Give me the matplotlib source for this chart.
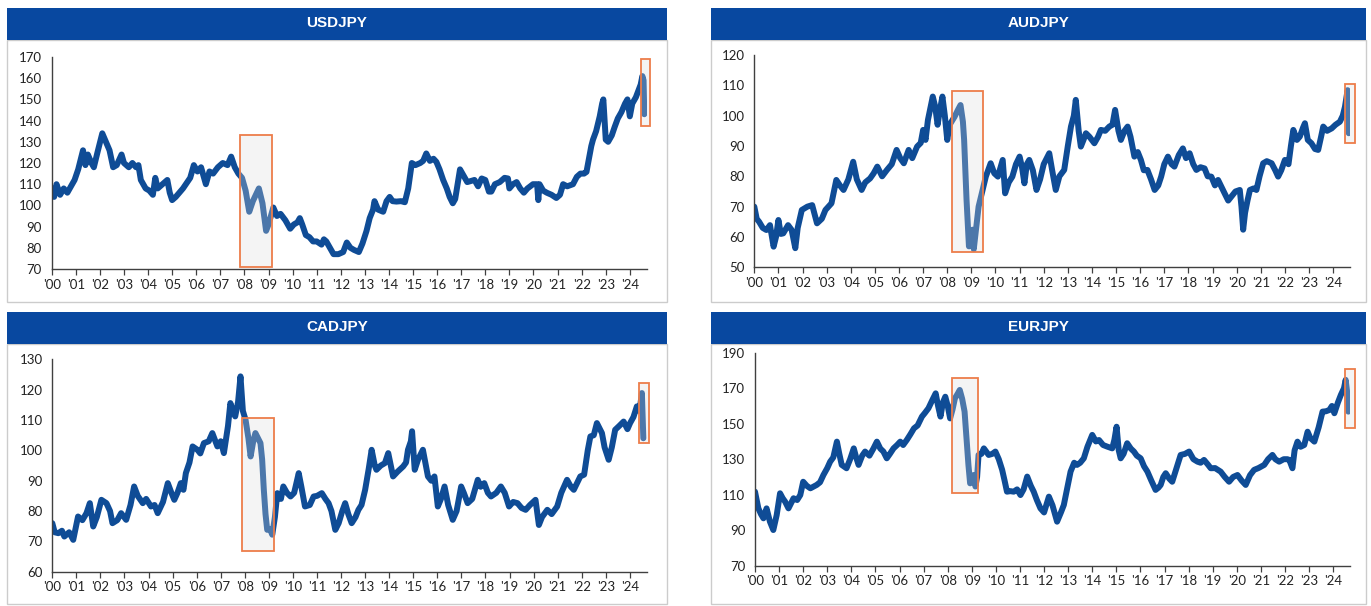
import matplotlib.pyplot as plt
from matplotlib.patches import Rectangle

# ---- JPY crosses, 2000 - Aug 2024 (decimal year, level) ----
usd_t = [2000.0, 2000.1, 2000.2, 2000.35, 2000.5, 2000.65, 2000.8, 2000.95, 2001.1, 2001.3,
         2001.4, 2001.5, 2001.65, 2001.75, 2001.9, 2002.1, 2002.25, 2002.4, 2002.55, 2002.7,
         2002.9, 2003.0, 2003.2, 2003.35, 2003.5, 2003.6, 2003.7, 2003.9, 2004.05, 2004.2,
         2004.3, 2004.4, 2004.6, 2004.8, 2004.9, 2005.0, 2005.15, 2005.3, 2005.45, 2005.6,
         2005.75, 2005.9, 2006.05, 2006.2, 2006.4, 2006.55, 2006.7, 2006.9, 2007.1, 2007.3,
         2007.45, 2007.6, 2007.75, 2007.9, 2008.05, 2008.2, 2008.35, 2008.6, 2008.75, 2008.9,
         2009.0, 2009.2, 2009.35, 2009.5, 2009.7, 2009.9, 2010.05, 2010.2, 2010.3, 2010.4,
         2010.55, 2010.7, 2010.85, 2011.0, 2011.2, 2011.3, 2011.4, 2011.55, 2011.7, 2011.9,
         2012.1, 2012.25, 2012.4, 2012.55, 2012.75, 2012.9, 2013.07, 2013.2, 2013.34, 2013.4,
         2013.55, 2013.76, 2013.9, 2014.03, 2014.15, 2014.31, 2014.5, 2014.66, 2014.8, 2014.95,
         2015.1, 2015.3, 2015.42, 2015.55, 2015.7, 2015.85, 2015.97, 2016.1, 2016.25, 2016.4,
         2016.52, 2016.65, 2016.75, 2016.85, 2016.95, 2017.1, 2017.25, 2017.4, 2017.55, 2017.7,
         2017.85, 2018.0, 2018.15, 2018.25, 2018.4, 2018.6, 2018.8, 2018.94, 2019.0, 2019.15,
         2019.3, 2019.45, 2019.6, 2019.75, 2019.98, 2020.15, 2020.2, 2020.25, 2020.4, 2020.55,
         2020.75, 2020.95, 2021.1, 2021.23, 2021.4, 2021.64, 2021.8, 2021.95, 2022.1, 2022.2,
         2022.3, 2022.4, 2022.47, 2022.6, 2022.75, 2022.85, 2022.9, 2023.0, 2023.1, 2023.25,
         2023.37, 2023.5, 2023.65, 2023.8, 2023.9, 2024.0, 2024.1, 2024.25, 2024.35, 2024.45,
         2024.52, 2024.57, 2024.6]
usd_v = [108, 104, 110, 105, 108, 106, 109, 112, 117, 126,
         119, 124, 120, 118, 125, 134, 130, 126, 118, 119,
         124, 120, 118, 120, 118, 119, 112, 108, 107, 105,
         113, 108, 110, 112, 106, 102.5, 104, 106, 108, 110.5,
         113, 119, 116, 118, 110, 116, 115, 118, 120, 119,
         123, 118, 115, 113, 107, 97, 102, 108, 101, 88,
         91, 99, 95, 96, 93, 89, 91, 92, 94, 91,
         86, 85, 83, 83, 81.5, 84, 83, 80, 77, 77,
         78, 82.5, 80, 79, 78, 82, 88, 94, 98, 102,
         98, 97, 102, 104, 102, 101.8, 102, 101.5, 108, 120,
         119, 120, 121, 124.5, 121, 122, 120.5, 117, 112, 108,
         104, 101, 103, 110, 117, 114, 111, 111.5, 112, 109,
         112.7, 112, 106.5, 106.5, 110, 111, 113, 112.7, 108, 110,
         111, 108, 106, 108, 110, 110, 102.5, 110, 107, 106,
         105, 103.5, 105, 110, 109, 110, 113.5, 115, 115, 115.8,
         122, 128, 131, 135, 142, 148, 150, 131, 130, 133,
         137, 141, 144, 148, 150, 142, 148, 151, 154, 157,
         161, 159, 143]

aud_t = [2000.0, 2000.1, 2000.2, 2000.35, 2000.5, 2000.65, 2000.8, 2000.9, 2001.0, 2001.1,
         2001.2, 2001.4, 2001.55, 2001.7, 2001.8, 2001.97, 2002.2, 2002.4, 2002.6, 2002.8,
         2002.95, 2003.2, 2003.4, 2003.55, 2003.7, 2003.9, 2004.1, 2004.25, 2004.45, 2004.6,
         2004.8, 2004.95, 2005.1, 2005.3, 2005.5, 2005.7, 2005.9, 2006.05, 2006.2, 2006.4,
         2006.55, 2006.75, 2006.9, 2007.0, 2007.1, 2007.2, 2007.4, 2007.5, 2007.6, 2007.7,
         2007.8, 2007.9, 2008.0, 2008.1, 2008.3, 2008.45, 2008.55, 2008.65, 2008.7, 2008.8,
         2008.9, 2009.0, 2009.05, 2009.1, 2009.2, 2009.3, 2009.45, 2009.6, 2009.8, 2009.95,
         2010.1, 2010.3, 2010.4, 2010.55, 2010.7, 2010.85, 2011.0, 2011.1, 2011.2, 2011.3,
         2011.4, 2011.55, 2011.7, 2011.85, 2012.0, 2012.23, 2012.35, 2012.5, 2012.65, 2012.85,
         2013.0, 2013.13, 2013.25, 2013.33, 2013.45, 2013.54, 2013.65, 2013.75, 2013.9, 2014.1,
         2014.25, 2014.37, 2014.55, 2014.72, 2014.85, 2014.96, 2015.1, 2015.2, 2015.35, 2015.48,
         2015.6, 2015.76, 2015.9, 2016.03, 2016.15, 2016.3, 2016.45, 2016.6, 2016.75, 2016.87,
         2017.0, 2017.15, 2017.3, 2017.42, 2017.6, 2017.77, 2017.9, 2018.05, 2018.2, 2018.33,
         2018.5, 2018.67, 2018.8, 2018.95, 2019.1, 2019.23, 2019.4, 2019.5, 2019.65, 2019.78,
         2019.95, 2020.13, 2020.2, 2020.27, 2020.35, 2020.45, 2020.55, 2020.7, 2020.82, 2020.95,
         2021.1, 2021.25, 2021.45, 2021.6, 2021.72, 2021.85, 2022.0, 2022.15, 2022.25, 2022.35,
         2022.5, 2022.62, 2022.75, 2022.83, 2022.95, 2023.1, 2023.25, 2023.38, 2023.5, 2023.59,
         2023.75, 2023.94, 2024.1, 2024.28, 2024.4, 2024.49, 2024.55, 2024.6, 2024.65]
aud_v = [70, 66, 65, 63, 62.3, 63.9, 56.8, 60, 65.6, 61,
         61.2, 63.9, 62.3, 56.3, 63, 68.9, 70, 70.5, 64.5, 66,
         68.9, 71.1, 78.8, 77, 75.5, 79, 84.8, 79, 75.5, 78,
         79.3, 81, 83.2, 80, 82.1, 84, 88.7, 86, 84.3, 88.7,
         86, 89.8, 91, 95.3, 92, 98.6, 106.3, 103, 97, 102,
         106.3, 100, 92, 97, 99.6, 102, 103.5, 98, 92, 72.3,
         56.9, 60, 62.4, 56, 63, 70, 75, 79.9, 84.3, 81,
         79.9, 85.4, 74.4, 78, 79.9, 84, 86.5, 83, 77.7, 84,
         85.4, 82, 75.5, 79, 84, 87.6, 82, 75.5, 80, 82.1,
         90, 96.4, 100, 105.2, 95, 89.8, 92, 94.2, 93, 90.9,
         93, 95.3, 95, 96.4, 97, 101.9, 95, 92, 95, 96.4,
         93, 86.5, 88, 85.4, 82, 82.1, 79, 75.5, 77, 79.9,
         84, 86.5, 84, 83.2, 87, 89.2, 86, 87.6, 84, 82.1,
         83, 82.6, 80, 79.9, 77, 78.8, 76, 74.4, 72, 73.3,
         75, 75.5, 70, 62.4, 68, 72, 75.5, 76, 75.5, 80,
         84.3, 85, 84.3, 82, 79.9, 82, 85.4, 84, 90, 95.3,
         92, 93.1, 96, 97.5, 92, 90.9, 89, 88.7, 93, 96.4,
         95, 95.8, 97, 98, 100, 102.9, 106, 108.4, 94.2]

cad_t = [2000.0, 2000.1, 2000.25, 2000.4, 2000.5, 2000.7, 2000.87, 2001.07, 2001.25, 2001.42,
         2001.56, 2001.7, 2001.85, 2002.04, 2002.25, 2002.4, 2002.5, 2002.7, 2002.86, 2003.07,
         2003.25, 2003.4, 2003.55, 2003.76, 2003.9, 2004.1, 2004.25, 2004.38, 2004.6, 2004.8,
         2004.95, 2005.07, 2005.2, 2005.34, 2005.45, 2005.55, 2005.7, 2005.83, 2006.03, 2006.15,
         2006.3, 2006.5, 2006.65, 2006.86, 2007.0, 2007.13, 2007.3, 2007.4, 2007.5, 2007.6,
         2007.72, 2007.82, 2007.92, 2008.03, 2008.15, 2008.24, 2008.35, 2008.44, 2008.55, 2008.65,
         2008.72, 2008.79, 2008.86, 2008.93, 2009.05, 2009.14, 2009.25, 2009.35, 2009.5, 2009.6,
         2009.75, 2009.9, 2010.05, 2010.24, 2010.35, 2010.5, 2010.7, 2010.86, 2011.0, 2011.2,
         2011.35, 2011.48, 2011.6, 2011.76, 2011.9, 2012.05, 2012.17, 2012.3, 2012.44, 2012.6,
         2012.72, 2012.85, 2013.0, 2013.15, 2013.27, 2013.4, 2013.47, 2013.65, 2013.82, 2013.96,
         2014.16, 2014.35, 2014.58, 2014.7, 2014.78, 2014.9, 2014.95, 2015.06, 2015.2, 2015.4,
         2015.5, 2015.61, 2015.75, 2015.88, 2016.02, 2016.15, 2016.3, 2016.45, 2016.64, 2016.8,
         2016.99, 2017.1, 2017.26, 2017.45, 2017.68, 2017.8, 2017.95, 2018.1, 2018.23, 2018.45,
         2018.64, 2018.8, 2018.98, 2019.15, 2019.33, 2019.5, 2019.67, 2019.85, 2020.08, 2020.22,
         2020.35, 2020.57, 2020.75, 2020.98, 2021.15, 2021.39, 2021.55, 2021.67, 2021.94, 2022.1,
         2022.25, 2022.36, 2022.5, 2022.63, 2022.84, 2022.95, 2023.12, 2023.25, 2023.39, 2023.55,
         2023.74, 2023.9, 2024.01, 2024.15, 2024.29, 2024.4, 2024.5, 2024.56]
cad_v = [76, 73, 72.7, 73.5, 71.6, 73, 70.5, 78.2, 77, 79.3,
         82.6, 74.9, 78, 83.7, 82.6, 80, 76, 77, 79.3, 77.1,
         82, 88.1, 85, 82.6, 84, 81.5, 82, 79.3, 83, 89.2,
         86, 83.7, 86, 89.2, 87, 92.5, 96, 101.3, 100.2, 99,
         102.4, 103, 105.7, 101.3, 103, 99.1, 108, 115.6, 113, 111.2,
         116, 124.4, 113, 110.1, 104, 98, 103, 105.7, 104, 102.4,
         97, 87, 79, 73.8, 74, 72.2, 78, 85.9, 84, 88.1,
         86, 84.8, 86, 92.5, 88, 81.5, 82, 84.8, 85, 85.9,
         84, 82.6, 80, 73.8, 76, 80, 82.6, 79, 76, 78,
         80.4, 82, 87, 94, 100.2, 95, 93.6, 95, 95.8, 99.1,
         91.4, 93, 94.7, 96, 100.2, 103, 106.3, 93.6, 97, 100.2,
         96, 91.4, 90, 91.4, 81.5, 84, 88.1, 82, 77.1, 80,
         88.1, 86, 82.6, 84, 90.3, 88, 89.2, 86, 84.8, 86,
         88.1, 86, 81.5, 83, 82.6, 81, 80.4, 82, 83.7, 75.4,
         78, 80.4, 79, 81.5, 86, 90.3, 88, 87, 91.4, 92,
         100, 104.6, 105, 109, 105.7, 101, 96.9, 101, 106.8, 108,
         109.5, 107, 109, 111, 114.5, 113, 118.9, 104]

eur_t = [2000.0, 2000.14, 2000.25, 2000.35, 2000.48, 2000.62, 2000.76, 2000.9, 2001.04, 2001.15,
         2001.25, 2001.39, 2001.6, 2001.75, 2001.88, 2002.0, 2002.15, 2002.3, 2002.56, 2002.7,
         2002.84, 2003.0, 2003.12, 2003.25, 2003.4, 2003.5, 2003.6, 2003.8, 2003.95, 2004.1,
         2004.2, 2004.3, 2004.45, 2004.57, 2004.75, 2004.92, 2005.06, 2005.2, 2005.33, 2005.47,
         2005.6, 2005.75, 2005.9, 2006.03, 2006.15, 2006.3, 2006.45, 2006.6, 2006.75, 2006.93,
         2007.05, 2007.2, 2007.35, 2007.5, 2007.6, 2007.7, 2007.8, 2007.9, 2008.0, 2008.1,
         2008.2, 2008.3, 2008.42, 2008.5, 2008.6, 2008.7, 2008.78, 2008.86, 2008.93, 2009.0,
         2009.08, 2009.15, 2009.22, 2009.28, 2009.4, 2009.5, 2009.7, 2009.85, 2009.98, 2010.12,
         2010.26, 2010.36, 2010.46, 2010.6, 2010.74, 2010.88, 2011.02, 2011.15, 2011.3, 2011.45,
         2011.57, 2011.7, 2011.85, 2012.0, 2012.2, 2012.35, 2012.54, 2012.7, 2012.82, 2012.95,
         2013.1, 2013.25, 2013.37, 2013.5, 2013.65, 2013.8, 2014.0, 2014.15, 2014.28, 2014.45,
         2014.62, 2014.83, 2014.92, 2015.01, 2015.1, 2015.18, 2015.3, 2015.45, 2015.6, 2015.73,
         2015.85, 2016.01, 2016.15, 2016.29, 2016.45, 2016.63, 2016.75, 2016.84, 2016.95, 2017.05,
         2017.2, 2017.32, 2017.5, 2017.67, 2017.85, 2018.02, 2018.2, 2018.37, 2018.5, 2018.64,
         2018.8, 2018.92, 2019.1, 2019.33, 2019.5, 2019.68, 2019.85, 2020.03, 2020.2, 2020.37,
         2020.55, 2020.72, 2020.9, 2021.14, 2021.3, 2021.48, 2021.6, 2021.76, 2021.95, 2022.1,
         2022.18, 2022.31, 2022.4, 2022.52, 2022.65, 2022.8, 2022.94, 2023.05, 2023.22, 2023.4,
         2023.56, 2023.7, 2023.84, 2023.95, 2024.05, 2024.2, 2024.32, 2024.45, 2024.52, 2024.58,
         2024.63]
eur_v = [111.7, 102.3, 99, 96.7, 102.3, 94.8, 90.1, 98.5, 110.8, 108,
         106.1, 102.3, 108, 107, 109.8, 117.3, 115, 113.6, 115.5, 117,
         121.1, 125, 128.6, 131, 139.9, 133, 126.8, 124.9, 130, 136.1,
         131, 126.8, 132, 134.3, 132, 136.1, 139.9, 136, 134.3, 130.5,
         133, 136.1, 138, 139.9, 138, 140.8, 144, 147.4, 149, 154,
         156, 158.7, 163, 167.1, 160, 154, 162, 165.2, 160, 153,
         158, 164.3, 167, 169, 164, 156.8, 142, 126.8, 116.4, 118,
         121.1, 114.6, 120, 132.4, 133, 136.1, 132.4, 133, 134.3, 130,
         124, 118, 111.7, 112, 111.7, 113, 109.8, 113, 120.2, 115,
         111.7, 107, 102.3, 100, 108.9, 104, 94.8, 100, 104.2, 113,
         123, 128, 126.8, 128, 130.5, 137, 143.7, 140, 140.8, 138,
         137.1, 136.1, 141, 148.3, 135, 130.5, 133, 139, 136, 134.3,
         132, 130.5, 126, 123, 118, 112.7, 114, 115.5, 120, 122.1,
         119, 117.3, 125, 132.4, 133, 134.3, 130, 128.6, 128, 129.6,
         127, 124.9, 125, 123, 120, 117.3, 120, 121.1, 118, 115.5,
         121, 124, 125, 126.8, 130, 132.4, 130, 128.6, 130, 130,
         129.6, 124.9, 135, 139.9, 137, 138, 145.5, 142, 139.9, 148,
         156.8, 157, 157.7, 160, 155.9, 162, 166.2, 170, 174.7, 168,
         156.8]

# highlighted windows: (start, end, low, high)
usd_boxes = [(2007.81, 2009.15, 70.8, 133.2), (2024.48, 2024.85, 137.5, 169)]
aud_boxes = [(2008.2, 2009.5, 55, 108), (2024.49, 2024.9, 91, 110.6)]
cad_boxes = [(2007.9, 2009.2, 66.9, 110.6), (2024.4, 2024.8, 102.6, 122.3)]
eur_boxes = [(2008.18, 2009.24, 111.1, 175.9), (2024.49, 2024.9, 147.4, 180.8)]

years = list(range(2000, 2025))
year_labels = ["'%02d" % (y - 2000) for y in years]

HEAD = '#0848a0'
LINE = '#0f4c96'
ORANGE = '#ed7d4a'

W, H = 1371, 606
fig = plt.figure(figsize=(W / 100, H / 100), dpi=100)


def fig_rect(x0, y0, x1, y1):
    # pixel box (origin top-left) -> figure fraction
    return [x0 / W, 1 - y1 / H, (x1 - x0) / W, (y1 - y0) / H]


def panel(title, t, v, ylim, ystep, boxes, outer, axbox):
    ox0, oy0, ox1, oy1 = outer
    l, b, w, h = fig_rect(ox0, oy0 + 32, ox1, oy1)
    fig.patches.append(Rectangle((l, b), w, h, transform=fig.transFigure,
                                 fill=False, edgecolor='#cccccc', lw=1))
    l, b, w, h = fig_rect(ox0, oy0, ox1, oy0 + 32)
    fig.patches.append(Rectangle((l, b), w, h, transform=fig.transFigure,
                                 facecolor=HEAD, edgecolor='none'))
    fig.text((ox0 + ox1) / 2 / W, 1 - (oy0 + 15) / H, title, color='white',
             fontsize=11, fontweight='bold', family='Liberation Sans',
             ha='center', va='center')

    ax = fig.add_axes(fig_rect(*axbox))
    ax.plot(t, v, color=LINE, lw=4.3, solid_joinstyle='round', solid_capstyle='round')
    for x0, x1, y0, y1 in boxes:
        ax.add_patch(Rectangle((x0, y0), x1 - x0, y1 - y0, facecolor=(0.86, 0.86, 0.86, 0.3),
                               edgecolor=ORANGE, lw=1.3, zorder=5, clip_on=False))
    ax.set_xlim(2000, 2024.7)
    ax.set_ylim(*ylim)
    ax.set_yticks(range(ylim[0], ylim[1] + 1, ystep))
    ax.set_xticks(years)
    ax.set_xticklabels(year_labels)
    for s in ['top', 'right']:
        ax.spines[s].set_visible(False)
    for s in ['left', 'bottom']:
        ax.spines[s].set_color('#404040')
        ax.spines[s].set_linewidth(1.0)
    ax.tick_params(axis='y', length=0, pad=7, labelsize=9.5, labelcolor='#222222')
    ax.tick_params(axis='x', length=4, width=0.9, color='#404040', pad=3,
                   labelsize=9.5, labelcolor='#222222')
    for lab in ax.get_xticklabels() + ax.get_yticklabels():
        lab.set_family('Lato')
    ax.patch.set_alpha(0)
    return ax


panel('USDJPY', usd_t, usd_v, (70, 170), 10, usd_boxes,
      (7, 8, 667, 302), (51.7, 57, 646.7, 269))
panel('AUDJPY', aud_t, aud_v, (50, 120), 10, aud_boxes,
      (711, 8, 1366, 302), (754.3, 55, 1350, 267.3))
panel('CADJPY', cad_t, cad_v, (60, 130), 10, cad_boxes,
      (7, 312, 667, 604), (52.3, 359.4, 646.7, 571.7))
panel('EURJPY', eur_t, eur_v, (70, 190), 20, eur_boxes,
      (711, 312, 1366, 604), (755, 352.7, 1350, 565.7))

fig.savefig('out.png', dpi=100, facecolor='white')
